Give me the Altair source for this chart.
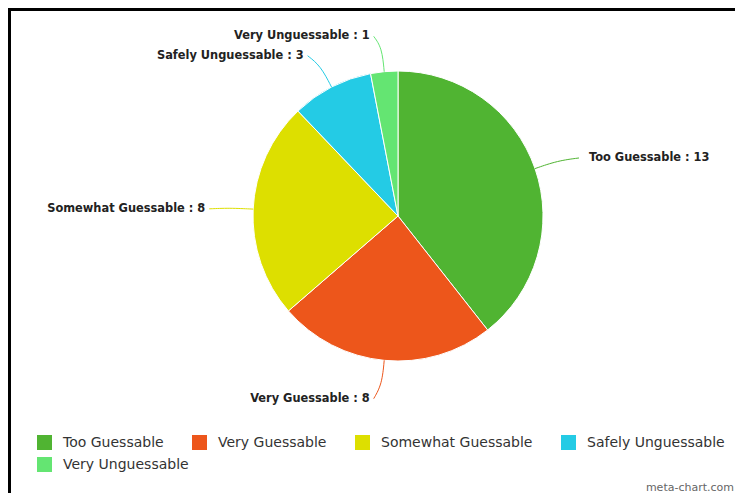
import altair as alt
import pandas as pd

categories = ["Too Guessable", "Very Guessable", "Somewhat Guessable", "Safely Unguessable", "Very Unguessable"]
values = [13, 8, 8, 3, 1]
colors = ["#50b432", "#ed561b", "#dddf00", "#24cbe5", "#64e572"]

df = pd.DataFrame({"cat": categories, "value": values, "order": list(range(len(categories)))})

W, H = 727, 485
CX, CY, R = 390, 208, 145

color_scale = alt.Scale(domain=categories, range=colors)

legend_style = dict(
    title=None,
    orient="none",
    direction="horizontal",
    symbolType="square",
    symbolSize=225,
    symbolStrokeWidth=0,
    symbolOpacity=1,
    labelFontSize=14,
    labelFont="DejaVu Sans",
    labelColor="#333333",
    labelOffset=11,
    columnPadding=28,
    labelLimit=300,
    gridAlign="none",
)

base = alt.Chart(df)

arcs = base.mark_arc(radius=R, stroke="white", strokeWidth=1).encode(
    theta=alt.Theta("value:Q", stack=True),
    color=alt.Color(
        "cat:N",
        scale=color_scale,
        sort=categories,
        legend=alt.Legend(values=categories[:4], columns=4, legendX=29, legendY=427, **legend_style),
    ),
    order=alt.Order("order:Q"),
    x=alt.value(CX),
    y=alt.value(CY),
)

# second legend row (wrapped entry)
last = categories[4:]
legend_row2 = base.transform_filter(
    alt.FieldOneOfPredicate(field="cat", oneOf=last)
).mark_square(opacity=0, size=1).encode(
    fill=alt.Fill(
        "cat:N",
        scale=alt.Scale(domain=last, range=colors[4:]),
        legend=alt.Legend(columns=1, legendX=29, legendY=449, **legend_style),
    ),
    x=alt.value(CX),
    y=alt.value(CY),
)

geo = base.transform_joinaggregate(total="sum(value)").transform_window(
    cum="sum(value)", sort=[alt.SortField("order")], frame=[None, 0]
).transform_calculate(
    mid="(datum.cum - datum.value / 2) / datum.total * 2 * PI"
).transform_calculate(
    s="sin(datum.mid)", c="cos(datum.mid)"
).transform_calculate(
    x0=f"{CX} + {R} * datum.s", y0=f"{CY} - {R} * datum.c",
    x1=f"{CX} + 169 * datum.s", y1=f"{CY} - 169 * datum.c",
    lx=f"{CX} + 182 * datum.s", ly=f"{CY} + 1.5 - 182 * datum.c",
    label="datum.cat + ' : ' + datum.value",
).transform_calculate(
    x2="datum.lx + (datum.s >= 0 ? 9 : -7)",
    tx="datum.lx + (datum.s >= 0 ? 19 : -11)",
    k0="0", k1="1", k2="2",
)

lines = geo.transform_fold(["k0", "k1", "k2"]).transform_calculate(
    px="datum.key == 'k0' ? datum.x0 : (datum.key == 'k1' ? datum.x1 : datum.x2)",
    py="datum.key == 'k0' ? datum.y0 : (datum.key == 'k1' ? datum.y1 : datum.ly)",
).mark_line(interpolate="basis", strokeWidth=1).encode(
    x=alt.X("px:Q", scale=None, axis=None),
    y=alt.Y("py:Q", scale=None, axis=None),
    color=alt.Color("cat:N", scale=color_scale, legend=None),
    detail="cat:N",
    order=alt.Order("key:N"),
)

text_style = dict(font="DejaVu Sans", fontWeight="bold", fontSize=11.4, color="#222222", baseline="middle")

labels_right = geo.transform_filter("datum.s >= 0").mark_text(align="left", **text_style).encode(
    x=alt.X("tx:Q", scale=None, axis=None),
    y=alt.Y("ly:Q", scale=None, axis=None),
    text="label:N",
)
labels_left = geo.transform_filter("datum.s < 0").mark_text(align="right", **text_style).encode(
    x=alt.X("tx:Q", scale=None, axis=None),
    y=alt.Y("ly:Q", scale=None, axis=None),
    text="label:N",
)

credit = alt.Chart(pd.DataFrame({"t": ["meta-chart.com"]})).mark_text(
    align="right", baseline="middle", fontSize=11, font="DejaVu Sans", color="#666666"
).encode(x=alt.value(W - 1), y=alt.value(H - 5), text="t:N")

frame_left = alt.Chart(pd.DataFrame({"a": [0]})).mark_rule(color="black", strokeWidth=3).encode(
    x=alt.value(1.5), y=alt.value(0), y2=alt.value(H)
)
frame_top = alt.Chart(pd.DataFrame({"a": [0]})).mark_rule(color="black", strokeWidth=3).encode(
    x=alt.value(0), x2=alt.value(W), y=alt.value(1.5)
)

chart = alt.layer(arcs, legend_row2, lines, labels_right, labels_left, credit, frame_left, frame_top).properties(
    width=W, height=H, padding=0, autosize=alt.AutoSizeParams(type="none"), background="white"
).configure_view(stroke=None)

chart.save("out.html", embed_options={"renderer": "svg", "actions": False})
